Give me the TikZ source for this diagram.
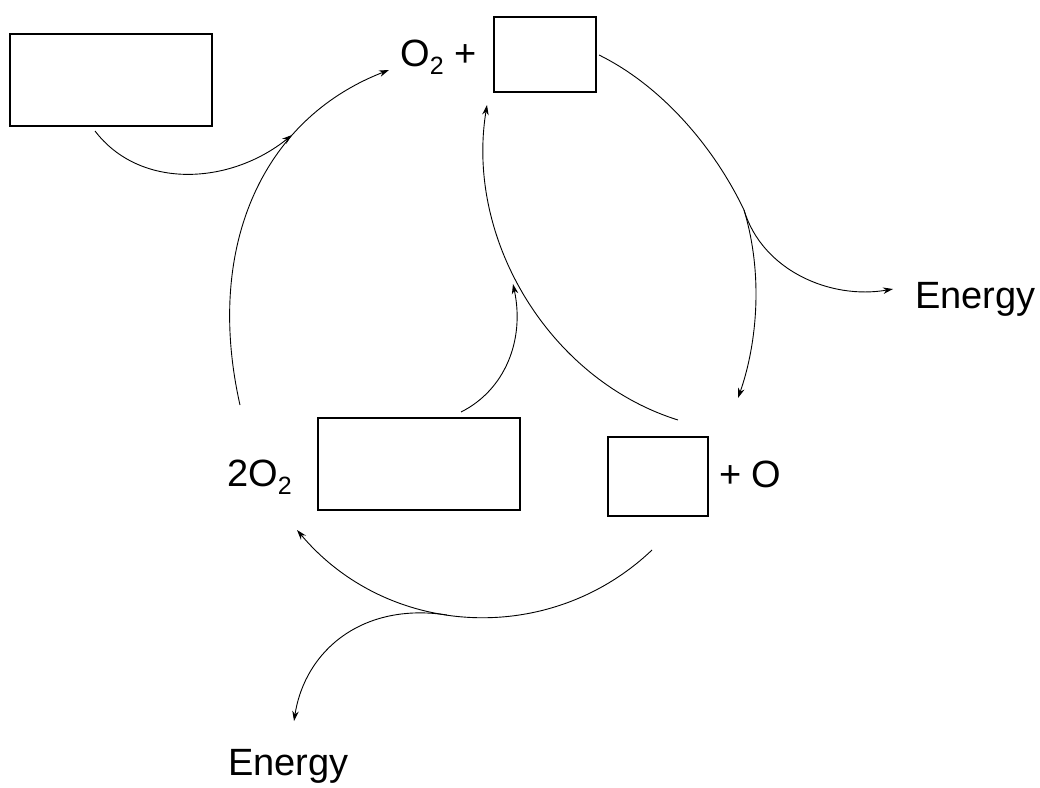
\documentclass[tikz,border=0pt]{standalone}
\usepackage{fontspec}
\setmainfont{Liberation Sans}
\usetikzlibrary{arrows.meta}
\newcommand{\chemsub}[1]{\raisebox{-0.22em}{\fontsize{25}{25}\selectfont #1}}
\tikzset{
    ->, % every curve ends in an arrow head
    >={Stealth[length=10pt, width=6.5pt]},
    box/.style={draw, ->, line width=1.2pt, inner sep=0pt, outer sep=0pt}, % the empty answer boxes
    chem/.style={font=\fontsize{38}{44}\selectfont, inner sep=0pt, anchor=base west}, % formulas and labels
    flow/.style={line width=0.9pt},
}
\begin{document}
\begin{tikzpicture}[x=1pt, y=-1pt]
        \useasboundingbox (0,0) rectangle (1040,787);

        \node[box, minimum width=202pt, minimum height=92pt] (box-a) at (111,80) {};
        \node[box, minimum width=102pt, minimum height=75pt] (box-b) at (545,54.5) {};
        \node[box, minimum width=202pt, minimum height=92pt] (box-c) at (419,464) {};
        \node[box, minimum width=100pt, minimum height=79pt] (box-d) at (658,476.5) {};

        \node[chem] (o2-plus) at (400,66) {O\chemsub{2} +};
        \node[chem] (two-o2) at (227,486) {2O\chemsub{2}};
        \node[chem] (plus-o) at (719,487) {+ O};
        \node[chem] (energy-r) at (915,308) {Energy};
        \node[chem] (energy-b) at (228,775) {Energy};

        % ends of the curves
        \coordinate (a-out) at (95,131);
        \coordinate (a-in) at (292,135);
        \coordinate (o2-out) at (240,405);
        \coordinate (o2-in) at (389,70);
        \coordinate (b-out) at (599,55);
        \coordinate (branch-r) at (744,210);
        \coordinate (d-in) at (738,398);
        \coordinate (energy-r-in) at (893,289);
        \coordinate (d-out) at (678,420);
        \coordinate (b-in) at (487,105);
        \coordinate (c-out) at (461,412);
        \coordinate (c-in) at (513,284);
        \coordinate (d-low) at (652,550);
        \coordinate (two-o2-in) at (297,530);
        \coordinate (branch-b) at (447,615);
        \coordinate (energy-b-in) at (294,721);

        \draw[flow] (a-out) .. controls (140,190) and (230,185) .. (a-in);
        \draw[flow] (o2-out) .. controls (205,250) and (260,120) .. (o2-in);
        \draw[flow] (b-out) .. controls (660,85) and (713,145) .. (branch-r)
            .. controls (765,280) and (755,350) .. (d-in);
        \draw[flow] (branch-r) .. controls (762,270) and (830,300) .. (energy-r-in);
        \draw[flow] (d-out) .. controls (550,380) and (465,240) .. (b-in);
        \draw[flow] (c-out) .. controls (505,390) and (525,340) .. (c-in);
        \draw[flow] (d-low) .. controls (550,647) and (388,638) .. (two-o2-in);
        \draw[flow] (branch-b) .. controls (363,602) and (305,650) .. (energy-b-in);

    \end{tikzpicture}
\end{document}
